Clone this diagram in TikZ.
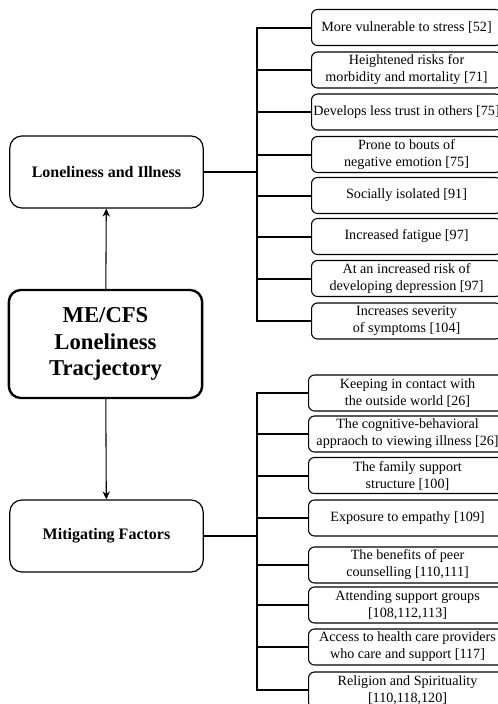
\documentclass[tikz,border=0pt]{standalone}
\usepackage{fontspec}
\setmainfont{Liberation Serif}
\usetikzlibrary{arrows.meta,positioning}
\tikzset{
    leafbox/.style={
        draw,
        rounded corners=4.5pt,
        line width=0.8pt,
        minimum width=142.5pt,
        minimum height=27pt,
        inner sep=1pt,
        align=center,
        anchor=west,
        font=\fontsize{10.6}{12.8}\selectfont
    },
    % wider boxes of the lower group
    lowbox/.style={leafbox, minimum width=148.5pt},
    headbox/.style={
        draw,
        rounded corners=9pt,
        line width=0.9pt,
        minimum width=145pt,
        minimum height=54pt,
        align=center,
        font=\bfseries\fontsize{12}{14}\selectfont
    },
    mainbox/.style={
        headbox,
        line width=1.8pt,
        minimum height=81pt,
        font=\bfseries\fontsize{17}{20}\selectfont
    },
    busline/.style={line width=1.5pt},
    linkarrow/.style={
        line width=0.8pt,
        -{Stealth[length=6pt, width=5.5pt]}
    }
}

\begin{document}
\begin{tikzpicture}[x=0.75pt, y=-0.75pt]
    \useasboundingbox (0,0) rectangle (498,704);

    \node[headbox] (illness) at (106.5,172) {Loneliness and Illness};
    \node[mainbox] (core) at (105.5,344) {ME/CFS\\Loneliness\\Tracjectory};
    \node[headbox] (mitig) at (106.5,536) {Mitigating Factors};

    \draw[linkarrow] (core) -- (illness);
    \draw[linkarrow] (core) -- (mitig);

    % upper group
    \node[leafbox] (t1) at (311,27.5) {More vulnerable to stress [52]};
    \node[leafbox] (t2) at (311,70) {Heightened risks for\\morbidity and mortality [71]};
    \node[leafbox] (t3) at (311,112) {Develops less trust in others [75]};
    \node[leafbox] (t4) at (311,154.5) {Prone to bouts of\\negative emotion [75]};
    \node[leafbox] (t5) at (311,195.5) {Socially isolated [91]};
    \node[leafbox] (t6) at (311,236.5) {Increased fatigue [97]};
    \node[leafbox] (t7) at (311,278.5) {At an increased risk of\\developing depression [97]};
    \node[leafbox] (t8) at (311,321) {Increases severity\\of symptoms [104]};

    \coordinate (busA) at (257,172);
    \draw[busline] (illness.east) -- (busA);
    \draw[busline] (t1.west) -| (busA |- t8.west) -- (t8.west);
    \foreach \i in {2,...,7}
        \draw[busline] (busA |- t\i.west) -- (t\i.west);

    % lower group
    \node[lowbox] (b1) at (308,393) {Keeping in contact with\\the outside world [26]};
    \node[lowbox] (b2) at (308,434) {The cognitive-behavioral\\appraoch to viewing illness [26]};
    \node[lowbox] (b3) at (308,475.5) {The family support\\structure [100]};
    \node[lowbox] (b4) at (308,518) {Exposure to empathy [109]};
    \node[lowbox] (b5) at (308,565) {The benefits of peer\\counselling [110,111]};
    \node[lowbox] (b6) at (308,605) {Attending support groups\\{}[108,112,113]};
    \node[lowbox] (b7) at (308,647) {Access to health care providers\\who care and support [117]};
    \node[lowbox] (b8) at (308,690) {Religion and Spirituality\\{}[110,118,120]};

    \coordinate (busB) at (257,536);
    \draw[busline] (mitig.east) -- (busB);
    \draw[busline] (b1.west) -| (busB |- b8.west) -- (b8.west);
    \foreach \i in {2,...,7}
        \draw[busline] (busB |- b\i.west) -- (b\i.west);
\end{tikzpicture}
\end{document}
